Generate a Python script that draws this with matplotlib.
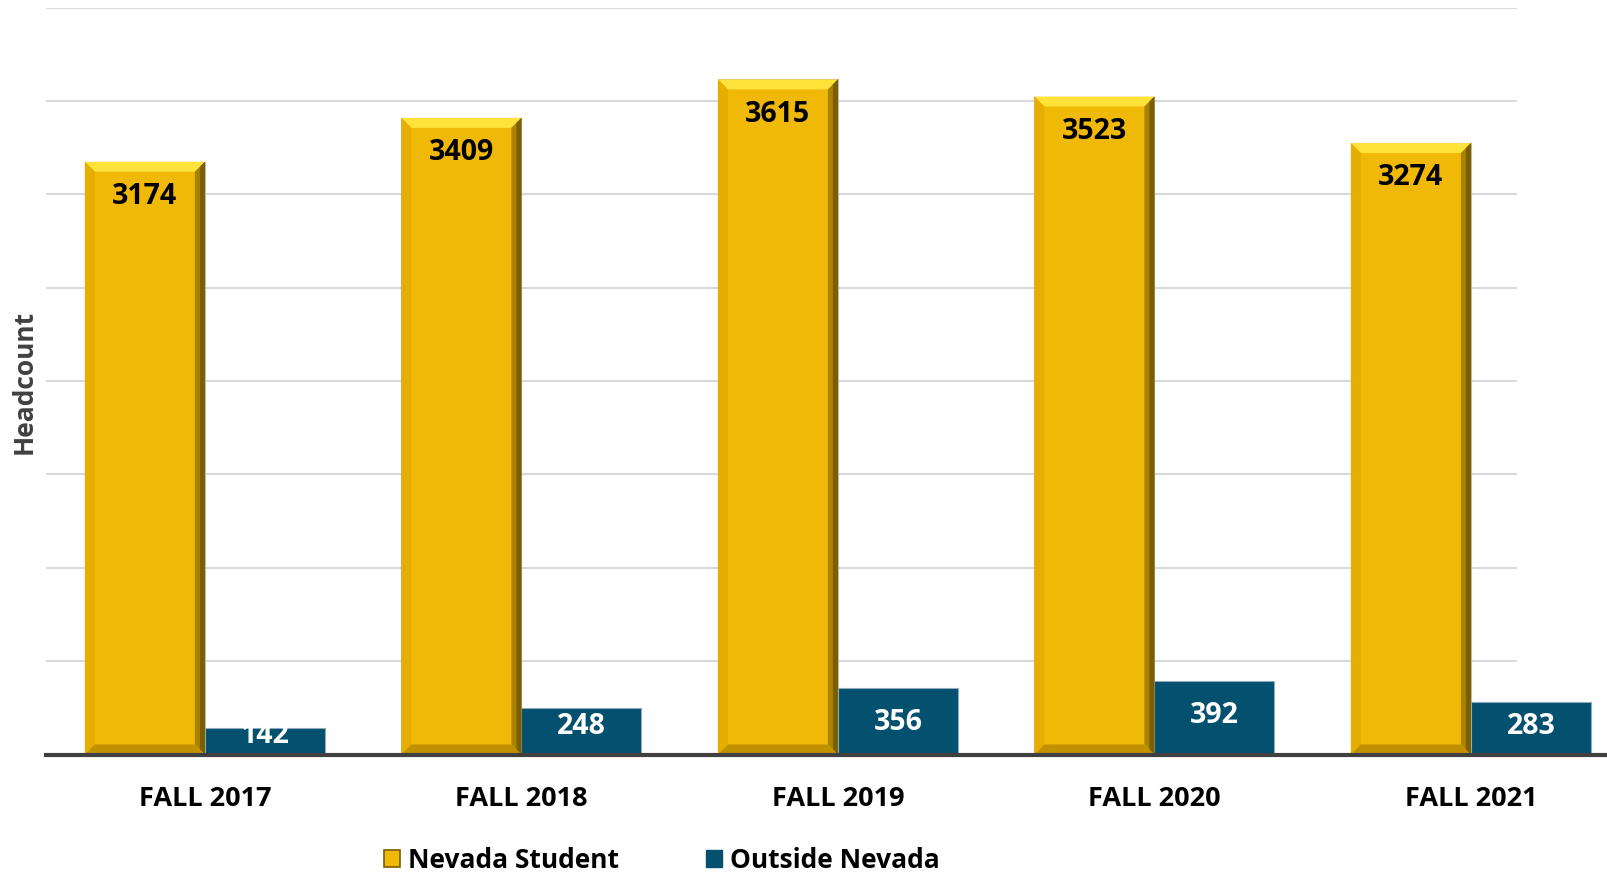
import matplotlib
matplotlib.use('Agg')
import matplotlib.pyplot as plt
from matplotlib.patches import Polygon, Patch
import numpy as np

plt.rcParams['font.family'] = ['Open Sans', 'DejaVu Sans']

categories = ['FALL 2017', 'FALL 2018', 'FALL 2019', 'FALL 2020', 'FALL 2021']
nevada = [3174, 3409, 3615, 3523, 3274]
outside = [142, 248, 356, 392, 283]
series_names = ['Nevada Student', 'Outside Nevada']

GOLD = '#F0B807'
GOLD_LIGHT = '#FFE23A'
GOLD_DARK = '#A88200'
GOLD_DARKER = '#7A5E00'
BLUE = '#03506F'
GRID = '#D9D9D9'

fig = plt.figure(figsize=(16.07, 8.75), dpi=100)
ax = fig.add_axes([46 / 1607, (875 - 754.5) / 875, (1607 - 46) / 1607, 747 / 875])

x = np.arange(len(categories))
w = 120 / 316.5
ax.set_xlim(-0.502, 4.43)
ax.set_ylim(0, 4000)

# gridlines stop short of the right edge like the original
ax.hlines(np.arange(500, 4001, 500), -0.502, 4.145, colors=GRID, lw=1.5, zorder=0)

ax.bar(x - w / 2, nevada, w, color=GOLD, edgecolor='#B8B8B8', lw=0.8, zorder=2)
ax.bar(x + w / 2, outside, w, color=BLUE, edgecolor='#8FAAB8', lw=0.8, zorder=2)

# bevel look on the gold bars
bx = 10 / 316.5
by = 10 / 0.18675
for xi, v in zip(x, nevada):
    x0, x1 = xi - w, xi
    ax.add_patch(Polygon([(x0, v), (x1, v), (x1 - bx, v - by), (x0 + bx, v - by)],
                         color=GOLD_LIGHT, lw=0, zorder=3))
    ax.add_patch(Polygon([(x1, v), (x1, 0), (x1 - bx, by), (x1 - bx, v - by)],
                         color=GOLD_DARK, lw=0, zorder=3))
    ax.add_patch(Polygon([(x1, v), (x1, 0), (x1 - bx / 2, by / 2), (x1 - bx / 2, v - by / 2)],
                         color=GOLD_DARKER, lw=0, zorder=3))
    ax.add_patch(Polygon([(x0, v), (x0 + bx, v - by), (x0 + bx, by), (x0, 0)],
                         color='#E6AE00', lw=0, zorder=3))
    ax.add_patch(Polygon([(x0, 0), (x0 + bx, by), (x1 - bx, by), (x1, 0)],
                         color='#C09200', lw=0, zorder=3))

# data labels
for xi, v in zip(x, nevada):
    ax.text(xi - w / 2, v - 186, str(v), ha='center', va='center',
            fontsize=20.5, fontweight='bold', color='black', zorder=5)
for xi, v in zip(x, outside):
    ax.text(xi + w / 2, max(v - 182, min(152, 0.72 * v)), str(v), ha='center', va='center',
            fontsize=20.5, fontweight='bold', color='white', zorder=5)

ax.axhline(0, color='#404040', lw=3, clip_on=False, zorder=4)

for s in ax.spines.values():
    s.set_visible(False)
ax.set_yticks([])
ax.set_xticks(x, categories)
ax.tick_params(axis='x', length=0, pad=22.5, labelsize=19.5)
for lab in ax.get_xticklabels():
    lab.set_fontweight('bold')

fig.text(24 / 1607, 1 - 382 / 875, 'Headcount', rotation=90, ha='center', va='center',
         fontsize=19, fontweight='bold', color='#404040')

handles = [Patch(facecolor=GOLD, edgecolor=GOLD_DARKER, lw=1.2),
           Patch(facecolor=BLUE, edgecolor=BLUE)]
fig.legend(handles, series_names, loc='center', bbox_to_anchor=(662 / 1607, 1 - 860 / 875),
           ncol=2, frameon=False, prop={'size': 19, 'weight': 'bold'},
           handlelength=0.6, handleheight=0.6, handletextpad=0.3, columnspacing=3.3,
           borderpad=0)

fig.savefig('out.png', dpi=100)
